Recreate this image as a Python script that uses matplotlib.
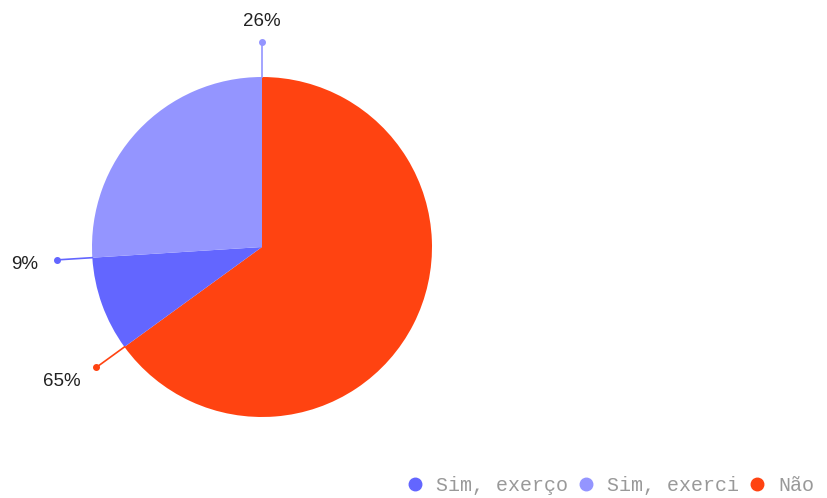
import matplotlib.pyplot as plt
import numpy as np
from matplotlib.lines import Line2D

# slices in drawing order (clockwise from 12 o'clock)
labels = ["Não", "Sim, exerço", "Sim, exerci"]
values = [65, 9, 26]
colors = ["#ff4311", "#6366ff", "#9495ff"]

# legend order as shown under the chart
legend_labels = ["Sim, exerço", "Sim, exerci", "Não"]
legend_colors = ["#6366ff", "#9495ff", "#ff4311"]

W, H = 828, 498
cx, cy, r = 262, H - 247, 170


def main() -> None:
    fig = plt.figure(figsize=(W / 100, H / 100), dpi=100)
    ax = fig.add_axes([0, 0, 1, 1])

    ax.pie(
        values,
        colors=colors,
        startangle=90,
        counterclock=False,
        radius=r,
        center=(cx, cy),
        wedgeprops=dict(linewidth=0),
        frame=True,
    )
    ax.set_xlim(0, W)
    ax.set_ylim(0, H)
    ax.set_aspect("equal")
    ax.axis("off")

    # labels sit at the end of each wedge (clockwise), on a short leader line
    total = float(sum(values))
    start = 90.0
    for val, col in zip(values, colors):
        end = start - 360.0 * val / total
        a = np.deg2rad(end)
        c, s = np.cos(a), np.sin(a)
        x0, y0 = cx + r * c, cy + r * s
        x1, y1 = cx + 205 * c, cy + 205 * s
        ax.plot([x0, x1], [y0, y1], color=col, linewidth=1.2)
        ax.plot(x1, y1, "o", color=col, markersize=4)
        if abs(c) < 0.3:
            ha, va = "center", ("bottom" if s > 0 else "top")
            tx, ty = cx + 217 * c, cy + 217 * s
        else:
            ha, va = ("right" if c < 0 else "left"), "center"
            tx, ty = cx + 224 * c, cy + 224 * s - 3
        ax.text(
            tx,
            ty,
            f"{val}%",
            ha=ha,
            va=va,
            fontsize=13.5,
            family="Liberation Sans",
            color="#222222",
        )
        start = end

    handles = [
        Line2D([], [], linestyle="none", marker="o", markersize=9, color=col)
        for col in legend_colors
    ]
    fig.legend(
        handles,
        legend_labels,
        loc="center right",
        bbox_to_anchor=(814 / W, 13 / H),
        ncol=3,
        frameon=False,
        prop=dict(family="Liberation Mono", size=14.4),
        labelcolor="#999999",
        handlelength=1.0,
        handletextpad=0.55,
        columnspacing=0.4,
        borderpad=0,
        borderaxespad=0,
    )

    fig.savefig("out.png", dpi=100)


if __name__ == "__main__":
    main()
